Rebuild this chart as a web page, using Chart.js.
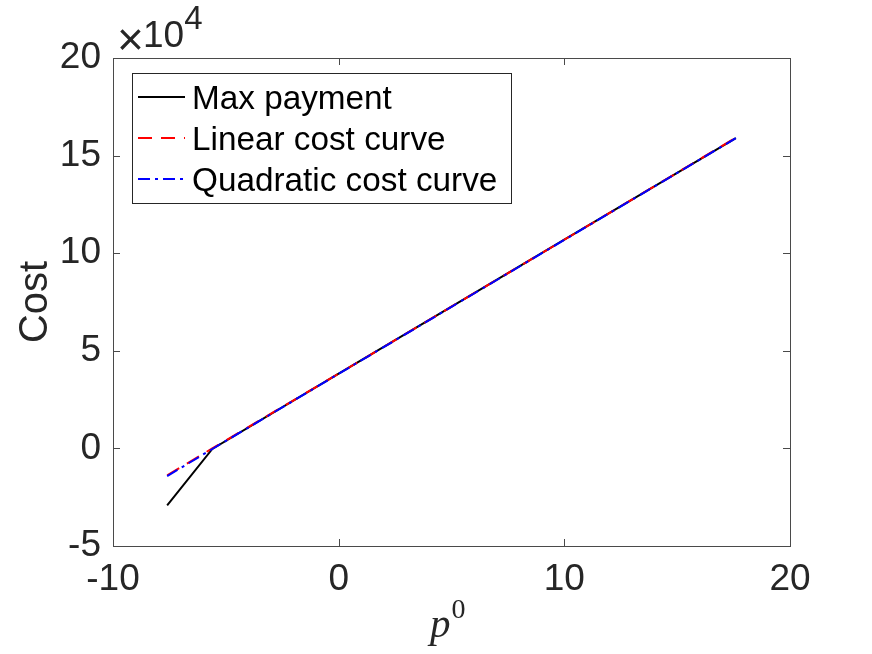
<!DOCTYPE html>
<html>
<head>
<meta charset="utf-8">
<script src="https://cdn.jsdelivr.net/npm/chart.js@4.4.1/dist/chart.umd.min.js"></script>
<style>
  html, body { margin: 0; padding: 0; background: #ffffff; }
  #wrap { width: 872px; height: 654px; position: relative; }
</style>
</head>
<body>
<div id="wrap"><canvas id="c" width="872" height="654"></canvas></div>
<script>
// ---- Data ----
const pValues        = [-7.6, -5.6, 0, 5, 10, 15, 17.6];
const maxPayment     = [-29200, -300, 38300, 72600, 106900, 141200, 159000];
const linearCost     = [-13800, 0, 38300, 72600, 106900, 141200, 159200];
const quadraticCost  = [-14200, -300, 38200, 72500, 106800, 141100, 158900];
const seriesLabels   = ['Max payment', 'Linear cost curve', 'Quadratic cost curve'];
const xTickValues    = [-10, 0, 10, 20];
const yTickValues    = [-50000, 0, 50000, 100000, 150000, 200000];
const yExponent      = 4;

function pts(xs, ys) { return xs.map((x, i) => ({ x: x, y: ys[i] })); }

const AXIS_COLOR = '#262626';
const TICK_FONT = { family: 'Liberation Sans, Arial, Helvetica, sans-serif', size: 37 };

const decorPlugin = {
  id: 'decor',
  afterDraw(chart) {
    const ctx = chart.ctx;
    const a = chart.chartArea;
    const xs = chart.scales.x, ys = chart.scales.y;
    ctx.save();
    // axis box
    ctx.strokeStyle = '#4a4a4a';
    ctx.lineWidth = 1;
    ctx.strokeRect(Math.round(a.left) + 0.5, Math.round(a.top) + 0.5,
                   Math.round(a.right - a.left), Math.round(a.bottom - a.top));
    // inward ticks
    const tl = 7;
    ctx.beginPath();
    xTickValues.forEach(v => {
      const px = Math.round(xs.getPixelForValue(v)) + 0.5;
      ctx.moveTo(px, a.bottom); ctx.lineTo(px, a.bottom - tl);
      ctx.moveTo(px, a.top); ctx.lineTo(px, a.top + tl);
    });
    yTickValues.forEach(v => {
      const py = Math.round(ys.getPixelForValue(v)) + 0.5;
      ctx.moveTo(a.left, py); ctx.lineTo(a.left + tl, py);
      ctx.moveTo(a.right, py); ctx.lineTo(a.right - tl, py);
    });
    ctx.stroke();

    // exponent label  x10^4
    ctx.fillStyle = AXIS_COLOR;
    ctx.textBaseline = 'alphabetic';
    ctx.textAlign = 'left';
    ctx.font = '46px "Liberation Sans", Arial, sans-serif';
    ctx.fillText('\u00D7', a.left + 4, a.top - 3);
    ctx.font = '37px "Liberation Sans", Arial, sans-serif';
    const ten = '10';
    ctx.fillText(ten, a.left + 30, a.top - 11);
    const bw = ctx.measureText(ten).width;
    ctx.font = '33px "Liberation Sans", Arial, sans-serif';
    ctx.fillText(String(yExponent), a.left + 30 + bw, a.top - 29);

    // y axis title
    ctx.save();
    ctx.translate(47, (a.top + a.bottom) / 2);
    ctx.rotate(-Math.PI / 2);
    ctx.textAlign = 'center';
    ctx.font = '40px "Liberation Sans", Arial, sans-serif';
    ctx.fillText('Cost', 0, 0);
    ctx.restore();

    // x axis title  p^0
    ctx.textAlign = 'left';
    ctx.font = 'italic 41px "Liberation Serif", "Times New Roman", serif';
    const pw = ctx.measureText('p').width;
    ctx.fillText('p', 430, 637);
    ctx.font = '28px "Liberation Serif", "Times New Roman", serif';
    ctx.fillText('0', 430 + pw + 1, 618);

    // legend
    const lx = 132.5, ly = 73.5, lw = 379, lh = 130;
    ctx.fillStyle = '#ffffff';
    ctx.fillRect(lx, ly, lw, lh);
    ctx.strokeStyle = '#262626';
    ctx.lineWidth = 1;
    ctx.strokeRect(lx, ly, lw, lh);
    const rows = [97, 138, 179];
    ctx.font = '33.3px "Liberation Sans", Arial, sans-serif';
    chart.data.datasets.forEach((ds, i) => {
      const y = rows[i];
      ctx.strokeStyle = ds.borderColor;
      ctx.lineWidth = ds.borderWidth;
      ctx.setLineDash(ds.borderDash || []);
      ctx.beginPath();
      ctx.moveTo(138, y); ctx.lineTo(185, y);
      ctx.stroke();
      ctx.setLineDash([]);
      ctx.fillStyle = '#000000';
      ctx.textBaseline = 'alphabetic';
      ctx.fillText(ds.label, 192, y + 12);
    });
    ctx.restore();
  }
};

new Chart(document.getElementById('c'), {
  type: 'line',
  data: {
    datasets: [
      { label: seriesLabels[0], data: pts(pValues, maxPayment), borderColor: '#000000',
        borderWidth: 2, borderDash: [], order: 3 },
      { label: seriesLabels[1], data: pts(pValues, linearCost), borderColor: '#ff0000',
        borderWidth: 2, borderDash: [14, 9], order: 2 },
      { label: seriesLabels[2], data: pts(pValues, quadraticCost), borderColor: '#0000ff',
        borderWidth: 2, borderDash: [12, 5, 3, 5], order: 1 }
    ]
  },
  options: {
    responsive: false,
    animation: false,
    devicePixelRatio: 1,
    layout: { padding: { left: 0, right: 82, top: 58, bottom: 0 } },
    elements: { point: { radius: 0 }, line: { tension: 0, fill: false } },
    plugins: { legend: { display: false }, tooltip: { enabled: false } },
    scales: {
      x: {
        type: 'linear', min: -10, max: 20,
        afterFit(s) { s.height = 108; },
        afterBuildTicks(s) { s.ticks = xTickValues.map(v => ({ value: v })); },
        grid: { display: false, drawTicks: false },
        border: { display: false },
        ticks: { color: AXIS_COLOR, font: TICK_FONT, padding: 12, maxRotation: 0,
                 callback: v => String(v) }
      },
      y: {
        type: 'linear', min: -50000, max: 200000,
        afterFit(s) { s.width = 113; },
        afterBuildTicks(s) { s.ticks = yTickValues.map(v => ({ value: v })); },
        grid: { display: false, drawTicks: false },
        border: { display: false },
        ticks: { color: AXIS_COLOR, font: TICK_FONT, padding: 12,
                 callback: v => String(v / Math.pow(10, yExponent)) }
      }
    }
  },
  plugins: [decorPlugin]
});
</script>
</body>
</html>
